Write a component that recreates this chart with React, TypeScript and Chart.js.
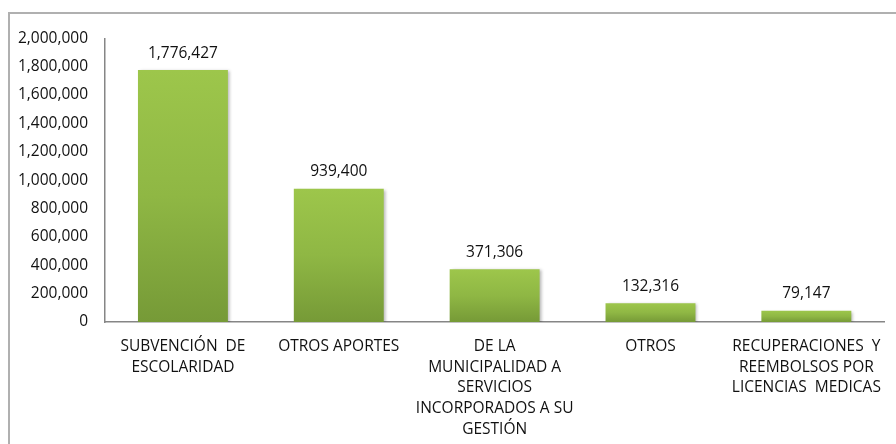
import React, { useEffect, useRef } from "react";
import { Chart, registerables } from "chart.js";

Chart.register(...registerables);

const categories: (string | string[])[] = [
  ["SUBVENCIÓN  DE", "ESCOLARIDAD"],
  "OTROS APORTES",
  ["DE LA", "MUNICIPALIDAD A", "SERVICIOS", "INCORPORADOS A SU", "GESTIÓN"],
  "OTROS",
  ["RECUPERACIONES  Y", "REEMBOLSOS POR", "LICENCIAS  MEDICAS"],
];
const values: number[] = [1776427, 939400, 371306, 132316, 79147];
const yMin = 0;
const yMax = 2000000;
const yStep = 200000;

const FONT = "'Open Sans', sans-serif";
const FS = 15.5;
const fmt = (v: number) => v.toLocaleString("en-US");

const shadowPlugin = {
  id: "barShadow",
  beforeDatasetsDraw(chart: any) {
    const ctx = chart.ctx;
    ctx.save();
    ctx.shadowColor = "rgba(0,0,0,0.28)";
    ctx.shadowBlur = 3;
    ctx.shadowOffsetX = 2;
    ctx.shadowOffsetY = 1;
  },
  afterDatasetsDraw(chart: any) {
    chart.ctx.restore();
  },
};

const labelPlugin = {
  id: "valueLabels",
  afterDatasetsDraw(chart: any) {
    const ctx = chart.ctx;
    const meta = chart.getDatasetMeta(0);
    ctx.save();
    ctx.font = `${FS}px ${FONT}`;
    ctx.fillStyle = "#111";
    ctx.textAlign = "center";
    ctx.textBaseline = "bottom";
    meta.data.forEach((bar: any, i: number) => {
      ctx.fillText(fmt(values[i]), bar.x, bar.y - 9);
    });
    ctx.restore();
  },
};

export default function App() {
  const ref = useRef<HTMLCanvasElement>(null);
  useEffect(() => {
    if (!ref.current) return;
    const chart = new Chart(ref.current, {
      type: "bar",
      data: {
        labels: categories,
        datasets: [
          {
            data: values,
            backgroundColor: (c: any) => {
              const ch = c.chart;
              const ys = ch.scales?.y;
              if (!ys || c.dataIndex === undefined) return "#8db443";
              const top = ys.getPixelForValue(values[c.dataIndex]);
              const base = ys.getPixelForValue(0);
              if (!isFinite(top) || !isFinite(base) || top === base) return "#8db443";
              const g = ch.ctx.createLinearGradient(0, top, 0, base);
              g.addColorStop(0, "#9dc64b");
              g.addColorStop(0.5, "#8fb744");
              g.addColorStop(1, "#769a37");
              return g;
            },
            borderWidth: 0,
            barPercentage: 0.577,
            categoryPercentage: 1,
          },
        ],
      },
      options: {
        animation: false,
        responsive: false,
        maintainAspectRatio: false,
        layout: { padding: { top: 20, right: 11, left: 0, bottom: 0 } },
        plugins: { legend: { display: false }, tooltip: { enabled: false } },
        scales: {
          x: {
            grid: { display: false, drawTicks: false },
            border: { display: true, color: "#868686", width: 1.5 },
            ticks: {
              autoSkip: false,
              maxRotation: 0,
              minRotation: 0,
              padding: 14,
              color: "#111",
              font: { family: FONT, size: FS, lineHeight: 20.8 / FS },
            },
            afterFit: (s: any) => {
              s.height = 122;
            },
          },
          y: {
            min: yMin,
            max: yMax,
            grid: { display: false, drawTicks: false },
            border: { display: true, color: "#868686", width: 1.5 },
            ticks: {
              stepSize: yStep,
              padding: 17,
              color: "#111",
              font: { family: FONT, size: FS },
              callback: (v: any) => fmt(Number(v)),
            },
            afterFit: (s: any) => {
              s.width = 97;
            },
          },
        },
      },
      plugins: [shadowPlugin, labelPlugin],
    });
    return () => chart.destroy();
  }, []);

  return (
    <div>
      <div
        style={{
          position: "absolute",
          left: 8,
          top: 12,
          width: 888,
          height: 432,
          borderTop: "2px solid #b0b0b0",
          borderLeft: "2px solid #b0b0b0",
          boxSizing: "border-box",
        }}
      />
      <canvas
        ref={ref}
        width={888}
        height={432}
        style={{ position: "absolute", left: 8, top: 12, width: 888, height: 432 }}
      />
    </div>
  );
}
